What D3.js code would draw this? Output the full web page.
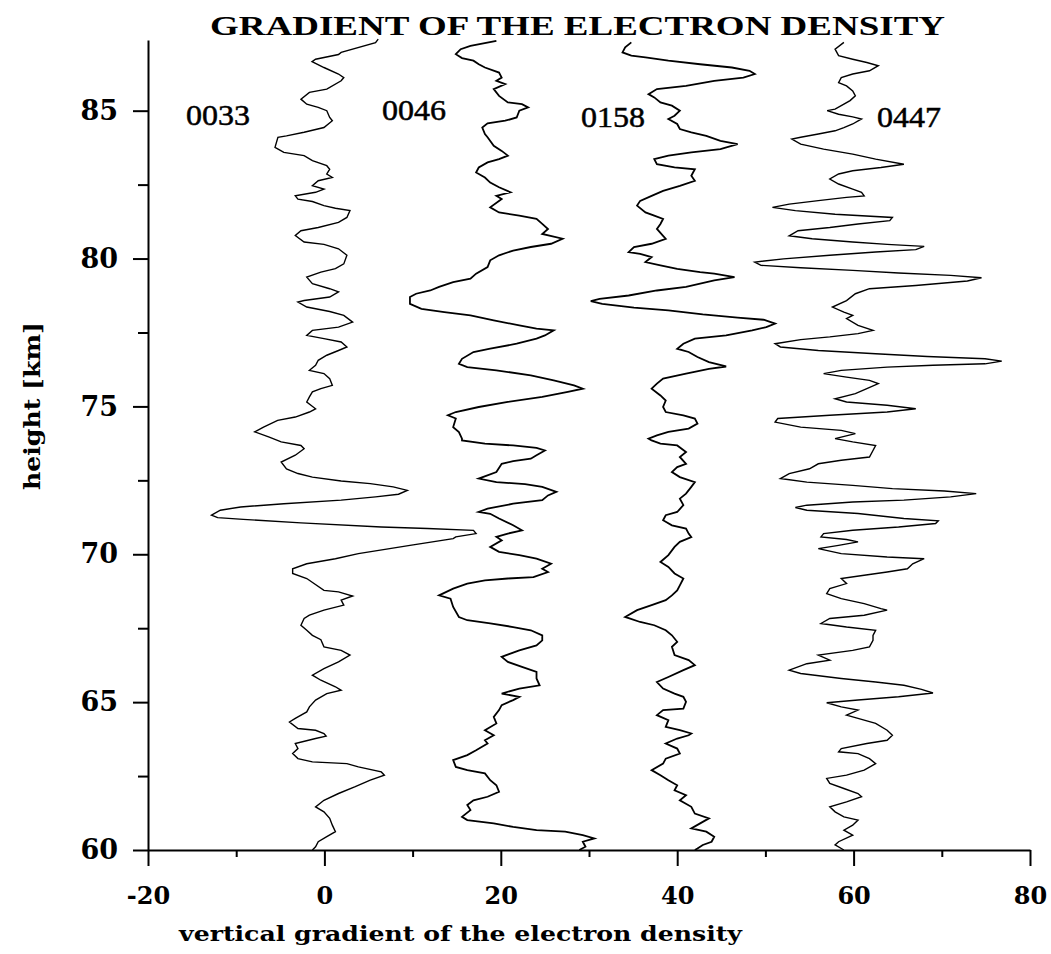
<!DOCTYPE html>
<html>
<head>
<meta charset="utf-8">
<script src="https://cdn.jsdelivr.net/npm/d3@7"></script>
<style>
  html, body { margin: 0; padding: 0; background: #fff; }
  svg { display: block; }
</style>
</head>
<body>
<svg id="chart" width="1051" height="954"></svg>
<script>
// ---------------- DATA ----------------
const seriesNames = ["0033", "0046", "0158", "0447"];
const xTicksMajor = [-20, 0, 20, 40, 60, 80];
const xTicksMinor = [-10, 10, 30, 50, 70];
const yTicksMajor = [60, 65, 70, 75, 80, 85];
const yTicksMinor = [62.5, 67.5, 72.5, 77.5, 82.5];
const xDomain = [-20, 80];
const yDomain = [60, 87.39];

// [height km, gradient]
const s0033 = [[87.42,6.1],[87.3,5.8],[86.97,1.9],[86.9,1.6],[86.74,-1.0],[86.66,-1.4],[86.46,-0.05],[86.24,1.6],[86.12,2.2],[86.01,1.9],[85.73,0.27],[85.62,-1.7],[85.39,-2.66],[85.22,-2.0],[85.11,-0.7],[85.0,0.27],[84.77,0.6],[84.66,0.9],[84.43,-0.05],[84.27,-2.3],[84.15,-4.3],[84.10,-5.27],[83.76,-5.6],[83.59,-4.6],[83.48,-2.3],[83.31,-1.36],[83.14,0.27],[83.02,0.6],[82.86,0.27],[82.74,0.9],[82.63,-0.7],[82.46,-1.36],[82.35,-0.05],[82.24,-1.0],[82.12,-3.3],[82.01,-3.0],[81.93,-1.36],[81.79,-0.05],[81.70,1.25],[81.62,2.9],[81.39,2.55],[81.22,1.6],[81.05,-0.7],[80.94,-2.66],[80.78,-3.3],[80.56,-2.3],[80.48,-0.05],[80.33,1.6],[80.11,2.55],[79.82,2.2],[79.66,1.25],[79.54,-0.4],[79.37,-2.0],[79.15,-1.36],[78.98,0.6],[78.87,1.6],[78.70,0.6],[78.58,-2.3],[78.53,-3.0],[78.36,-2.0],[78.21,0.6],[78.08,2.2],[77.85,3.2],[77.68,1.6],[77.57,-1.36],[77.40,-2.0],[77.29,-0.05],[77.18,1.9],[77.01,2.55],[76.89,1.6],[76.73,0.27],[76.56,-0.7],[76.39,-1.0],[76.22,-1.7],[76.11,-0.05],[75.94,0.6],[75.71,0.9],[75.60,-0.4],[75.49,-1.36],[75.32,-1.7],[75.15,-2.0],[74.92,-1.0],[74.81,-1.7],[74.64,-3.3],[74.53,-5.3],[74.30,-6.9],[74.14,-7.9],[73.96,-6.25],[73.80,-4.9],[73.68,-2.66],[73.57,-2.3],[73.35,-3.3],[73.12,-4.9],[72.89,-4.3],[72.73,-3.0],[72.61,-1.36],[72.48,1.9],[72.39,5.2],[72.28,7.8],[72.16,9.4],[72.03,8.4],[71.94,5.8],[71.83,1.9],[71.71,-4.6],[71.60,-9.5],[71.49,-11.8],[71.32,-12.8],[71.24,-12.1],[71.18,-9.2],[71.06,-2.66],[70.92,6.45],[70.87,11.7],[70.81,16.9],[70.70,17.2],[70.59,14.9],[70.53,14.6],[70.30,9.7],[70.19,7.4],[70.02,3.85],[69.85,1.25],[69.68,-2.0],[69.51,-3.6],[69.35,-3.6],[69.18,-2.0],[68.78,-0.05],[68.73,1.6],[68.59,3.2],[68.45,1.9],[68.28,2.2],[68.11,-0.05],[67.94,-1.7],[67.83,-2.3],[67.60,-2.66],[67.43,-2.0],[67.26,-1.36],[67.11,-0.4],[66.87,-0.05],[66.75,1.9],[66.59,2.9],[66.36,1.6],[66.13,-0.05],[65.91,-1.36],[65.74,-0.4],[65.52,1.25],[65.40,1.9],[65.29,0.27],[65.07,-1.0],[64.84,-1.7],[64.67,-2.0],[64.45,-3.3],[64.33,-3.96],[64.11,-3.0],[64.05,-1.0],[63.94,-0.05],[63.85,0.2],[63.77,-1.0],[63.60,-3.3],[63.43,-3.0],[63.26,-3.6],[63.09,-3.0],[62.98,-1.36],[62.92,2.55],[62.81,3.85],[62.64,6.45],[62.53,6.8],[62.36,5.2],[62.14,3.5],[61.91,1.6],[61.68,-0.05],[61.46,-1.0],[61.29,-0.05],[61.07,0.6],[60.84,0.9],[60.62,1.25],[60.45,0.27],[60.28,-0.7],[60.11,-1.0],[60.0,-1.36]];

const s0046 = [[87.36,19.5],[87.19,16.56],[87.08,15.45],[86.91,14.9],[86.78,15.6],[86.69,16.9],[86.57,17.5],[86.46,18.2],[86.29,19.8],[86.12,20.1],[86.01,19.5],[85.90,20.5],[85.73,19.2],[85.50,19.8],[85.28,20.8],[85.22,22.4],[85.11,23.1],[85.0,22.1],[84.77,21.8],[84.66,20.5],[84.57,18.5],[84.43,17.9],[84.21,18.2],[84.10,18.5],[83.81,19.2],[83.64,20.1],[83.48,20.8],[83.36,19.8],[83.25,18.5],[83.08,17.5],[82.91,17.2],[82.74,18.2],[82.57,18.8],[82.41,19.8],[82.24,21.1],[82.12,19.5],[82.01,20.1],[81.73,18.8],[81.56,19.8],[81.45,22.1],[81.34,24.05],[81.17,24.7],[81.0,25.35],[80.83,24.7],[80.67,27.0],[80.50,25.7],[80.39,23.4],[80.27,21.4],[80.11,19.8],[79.94,18.8],[79.71,18.5],[79.49,17.2],[79.32,16.56],[79.20,14.6],[79.04,13.0],[78.92,12.0],[78.81,10.4],[78.70,9.7],[78.47,9.7],[78.30,11.0],[78.19,13.6],[78.08,16.56],[77.91,19.2],[77.74,22.1],[77.63,24.05],[77.57,26.0],[77.40,25.0],[77.29,24.05],[77.12,21.8],[76.95,18.8],[76.84,16.9],[76.61,15.6],[76.44,15.25],[76.33,16.2],[76.22,19.5],[76.05,23.4],[75.88,26.0],[75.71,28.3],[75.60,29.3],[75.49,27.6],[75.32,24.7],[75.15,20.8],[74.98,17.5],[74.81,14.9],[74.70,14.0],[74.59,14.9],[74.30,14.6],[74.13,15.25],[73.91,15.6],[73.85,15.6],[73.74,18.2],[73.68,21.4],[73.60,24.05],[73.51,25.0],[73.35,24.05],[73.23,23.4],[73.15,21.4],[73.06,20.1],[72.78,19.5],[72.56,17.5],[72.44,19.5],[72.37,22.75],[72.28,24.7],[72.11,26.3],[71.99,25.35],[71.83,24.7],[71.71,21.4],[71.54,18.5],[71.43,17.5],[71.37,18.8],[71.21,19.8],[70.98,21.4],[70.81,22.4],[70.70,20.8],[70.59,19.5],[70.47,20.1],[70.25,18.8],[70.08,19.8],[69.97,22.1],[69.85,24.05],[69.68,25.7],[69.51,24.7],[69.40,25.35],[69.23,23.7],[69.18,20.8],[69.12,18.2],[69.01,16.2],[68.84,14.6],[68.61,13.0],[68.50,14.3],[68.22,14.6],[67.88,15.25],[67.77,16.2],[67.66,18.8],[67.54,21.4],[67.43,23.4],[67.26,24.7],[67.09,24.7],[66.92,24.05],[66.75,22.1],[66.53,20.1],[66.36,20.8],[66.19,22.4],[66.02,24.05],[65.80,24.05],[65.57,24.4],[65.46,22.1],[65.29,20.1],[65.18,22.1],[65.07,21.4],[64.90,20.1],[64.73,19.8],[64.50,19.2],[64.28,19.5],[64.05,18.2],[63.88,19.2],[63.71,18.2],[63.60,18.5],[63.37,17.2],[63.21,16.2],[63.04,14.6],[62.81,14.9],[62.70,16.2],[62.59,18.2],[62.36,18.8],[62.19,19.5],[61.97,19.8],[61.80,18.5],[61.68,16.9],[61.52,16.2],[61.35,16.56],[61.12,15.6],[61.01,16.2],[60.90,19.2],[60.78,21.4],[60.67,24.05],[60.62,27.3],[60.50,29.3],[60.39,30.6],[60.28,29.3],[60.11,29.6],[60.0,28.9]];

const s0158 = [[87.31,34.8],[87.14,34.1],[86.97,33.8],[86.86,34.8],[86.80,36.4],[86.69,39.0],[86.57,42.6],[86.46,46.2],[86.35,48.2],[86.24,48.8],[86.12,47.5],[86.01,44.2],[85.84,41.0],[85.73,37.7],[85.56,36.75],[85.45,37.4],[85.28,38.1],[85.17,39.4],[85.0,40.3],[84.83,39.7],[84.72,39.0],[84.55,40.0],[84.38,40.3],[84.27,41.6],[84.15,43.3],[83.98,44.9],[83.87,46.85],[83.70,44.9],[83.59,41.6],[83.48,39.0],[83.36,37.4],[83.19,37.7],[83.08,39.7],[83.02,42.0],[82.80,41.6],[82.63,42.0],[82.46,40.3],[82.29,38.4],[82.12,37.1],[81.95,35.8],[81.79,35.45],[81.56,36.4],[81.45,37.4],[81.34,38.4],[81.17,38.1],[81.0,37.7],[80.77,38.4],[80.67,38.7],[80.50,37.1],[80.39,35.1],[80.22,34.5],[80.16,35.8],[80.05,37.1],[79.88,36.4],[79.77,38.1],[79.65,40.0],[79.54,42.6],[79.49,44.2],[79.37,46.5],[79.26,44.2],[79.04,41.0],[78.92,37.7],[78.75,34.5],[78.64,31.2],[78.56,30.2],[78.47,31.5],[78.34,35.1],[78.25,39.0],[78.11,42.9],[78.0,46.85],[77.93,49.8],[77.80,51.1],[77.68,50.1],[77.57,48.5],[77.40,45.55],[77.29,42.0],[77.12,40.7],[76.95,40.0],[76.84,41.3],[76.67,42.3],[76.50,43.6],[76.35,45.55],[76.27,43.6],[76.11,41.0],[75.94,38.4],[75.77,37.7],[75.60,37.1],[75.37,38.1],[75.20,38.7],[74.98,38.4],[74.81,38.7],[74.70,40.7],[74.59,42.0],[74.42,42.3],[74.25,41.3],[74.14,39.0],[74.02,37.7],[73.91,36.75],[73.85,37.1],[73.74,38.1],[73.68,40.0],[73.46,41.0],[73.29,40.3],[73.06,41.0],[72.95,40.0],[72.78,39.4],[72.61,40.3],[72.44,42.0],[72.28,41.6],[72.05,41.0],[71.88,40.3],[71.66,40.7],[71.43,40.0],[71.32,38.7],[71.15,38.4],[70.98,39.4],[70.87,41.0],[70.70,41.3],[70.58,41.6],[70.42,40.3],[70.25,39.7],[69.97,39.0],[69.74,38.1],[69.57,39.0],[69.35,39.7],[69.18,40.7],[68.95,40.3],[68.78,40.0],[68.61,39.4],[68.45,38.7],[68.28,37.1],[68.11,35.45],[67.88,34.1],[67.71,35.8],[67.60,37.4],[67.43,38.7],[67.26,39.4],[67.04,40.0],[66.87,39.4],[66.59,39.7],[66.42,41.3],[66.25,42.0],[66.08,40.7],[65.85,39.0],[65.68,37.7],[65.46,38.4],[65.29,39.7],[65.18,40.7],[65.01,41.0],[64.78,40.7],[64.73,38.4],[64.56,37.7],[64.39,39.0],[64.16,38.7],[64.05,40.3],[63.94,41.6],[63.88,41.3],[63.77,40.0],[63.60,38.7],[63.43,40.0],[63.26,40.3],[63.09,38.7],[62.92,38.4],[62.70,37.1],[62.53,38.1],[62.36,39.0],[62.19,40.0],[62.02,39.7],[61.85,41.0],[61.68,40.3],[61.46,41.6],[61.23,42.0],[61.07,43.6],[60.90,42.6],[60.73,41.6],[60.62,43.3],[60.45,44.2],[60.28,43.9],[60.17,42.9],[60.05,42.3],[60.0,42.0]];

const s0447 = [[87.31,58.9],[87.08,57.9],[86.86,58.3],[86.74,59.9],[86.63,61.5],[86.52,62.8],[86.35,61.8],[86.24,59.9],[86.12,58.6],[85.95,58.3],[85.84,59.2],[85.67,59.9],[85.50,60.2],[85.34,59.6],[85.22,58.9],[85.05,57.9],[85.0,57.0],[84.88,58.3],[84.79,59.9],[84.72,60.9],[84.55,59.9],[84.43,58.9],[84.32,57.9],[84.21,56.0],[84.10,54.0],[84.04,53.0],[83.87,54.0],[83.70,56.6],[83.53,59.9],[83.36,62.5],[83.19,65.7],[83.08,63.1],[82.97,59.9],[82.86,58.3],[82.69,57.3],[82.52,58.3],[82.35,59.9],[82.24,60.9],[82.12,61.2],[82.07,59.2],[81.96,56.0],[81.84,52.7],[81.73,50.8],[81.62,53.4],[81.50,57.9],[81.39,64.4],[81.28,64.1],[81.17,60.5],[81.05,57.3],[80.94,53.7],[80.77,52.7],[80.67,55.3],[80.56,59.9],[80.48,63.8],[80.41,68.0],[80.30,67.05],[80.22,62.5],[80.11,57.3],[79.99,52.05],[79.88,48.8],[79.77,49.5],[79.69,54.0],[79.60,59.9],[79.51,65.1],[79.43,71.0],[79.35,74.5],[79.24,72.9],[79.09,67.05],[78.98,61.8],[78.81,60.2],[78.58,59.2],[78.36,57.6],[78.19,58.9],[78.08,59.9],[77.97,59.2],[77.74,60.5],[77.57,62.2],[77.46,60.5],[77.35,57.3],[77.26,54.0],[77.12,51.1],[77.01,51.7],[76.89,56.0],[76.78,62.5],[76.69,68.35],[76.61,74.9],[76.53,76.8],[76.44,74.9],[76.39,69.0],[76.33,63.8],[76.22,58.6],[76.11,56.6],[75.99,59.2],[75.88,61.8],[75.77,62.8],[75.60,61.5],[75.43,60.2],[75.26,57.9],[75.15,59.2],[75.04,63.8],[74.92,67.05],[74.81,63.8],[74.70,57.3],[74.59,51.4],[74.47,51.1],[74.30,54.0],[74.19,58.6],[74.08,60.2],[73.91,57.9],[73.80,59.9],[73.68,62.5],[73.51,62.2],[73.29,61.8],[73.18,58.6],[73.06,56.0],[72.89,55.0],[72.73,52.7],[72.56,51.7],[72.44,54.7],[72.33,59.9],[72.22,64.4],[72.14,70.3],[72.05,73.9],[71.94,71.0],[71.83,65.7],[71.77,59.9],[71.66,54.7],[71.58,53.4],[71.49,54.7],[71.38,60.5],[71.21,65.7],[71.13,69.6],[71.04,69.3],[70.92,65.1],[70.81,59.9],[70.70,56.6],[70.59,56.3],[70.50,59.2],[70.42,60.5],[70.30,58.3],[70.19,56.0],[70.02,58.6],[69.91,63.8],[69.85,68.0],[69.68,66.7],[69.51,66.1],[69.40,63.8],[69.29,61.2],[69.18,58.6],[69.01,59.2],[68.84,57.3],[68.67,56.95],[68.50,58.6],[68.33,61.2],[68.16,63.1],[68.11,63.8],[67.94,61.2],[67.83,57.3],[67.66,56.3],[67.54,59.2],[67.43,62.5],[67.26,62.2],[67.09,62.2],[66.87,61.8],[66.75,59.9],[66.59,56.0],[66.42,57.3],[66.30,54.7],[66.08,52.7],[65.97,54.0],[65.80,58.6],[65.68,62.5],[65.57,65.7],[65.43,67.7],[65.31,69.0],[65.18,65.1],[65.07,60.5],[64.98,56.95],[64.84,58.6],[64.73,60.5],[64.56,59.2],[64.45,60.5],[64.28,62.5],[64.05,63.8],[63.88,64.4],[63.71,63.8],[63.60,61.5],[63.43,58.6],[63.32,58.3],[63.26,60.5],[63.09,61.8],[62.92,62.5],[62.70,61.2],[62.53,59.2],[62.42,56.95],[62.25,57.3],[62.08,58.9],[61.91,60.5],[61.80,60.9],[61.63,59.2],[61.46,57.3],[61.29,57.9],[61.12,58.9],[61.01,60.5],[60.84,59.9],[60.67,58.9],[60.50,59.9],[60.28,58.3],[60.17,57.9],[60.0,58.9]];

const seriesData = [s0033, s0046, s0158, s0447];

// ---------------- LAYOUT ----------------
const svg = d3.select("#chart");
const x = d3.scaleLinear().domain(xDomain).range([148, 1030]);
const y = d3.scaleLinear().domain(yDomain).range([850, 40]);

// traces
const line = d3.line().x(d => x(d[1])).y(d => y(d[0]));
const strokeW = [1.4, 1.8, 1.8, 1.4];
seriesData.forEach((s, i) => {
  svg.append("path")
    .datum(s)
    .attr("d", line)
    .attr("fill", "none")
    .attr("stroke", "#000")
    .attr("stroke-width", strokeW[i])
    .attr("stroke-linejoin", "miter");
});

// x axis
const xAxis = svg.append("g").attr("transform", "translate(0,850)");
xAxis.call(d3.axisBottom(x).tickValues(xTicksMajor).tickSize(16).tickSizeOuter(0).tickFormat(d3.format("d")));
xAxis.select(".domain").attr("stroke-width", 2);
xAxis.selectAll(".tick line").attr("stroke-width", 2);
xAxis.selectAll(".tick text")
  .attr("y", 54).attr("dy", 0)
  .attr("font-family", "'DejaVu Serif', serif")
  .attr("font-weight", "bold")
  .attr("font-size", 24)
  .attr("fill", "#000")
  .text(d => d < 0 ? "-" + Math.abs(d) : d);
const xMinor = svg.append("g").attr("transform", "translate(0,850)");
xMinor.call(d3.axisBottom(x).tickValues(xTicksMinor).tickSize(7).tickSizeOuter(0).tickFormat(""));
xMinor.select(".domain").remove();
xMinor.selectAll(".tick line").attr("stroke-width", 2);

// y axis
const yAxis = svg.append("g").attr("transform", "translate(148,0)");
yAxis.call(d3.axisLeft(y).tickValues(yTicksMajor).tickSize(15).tickSizeOuter(0).tickFormat(d3.format("d")));
yAxis.select(".domain").attr("stroke-width", 2);
yAxis.selectAll(".tick line").attr("stroke-width", 2);
yAxis.selectAll(".tick text")
  .attr("x", -30)
  .attr("font-family", "'DejaVu Serif', serif")
  .attr("font-weight", "bold")
  .attr("font-size", 27)
  .attr("fill", "#000");
const yMinor = svg.append("g").attr("transform", "translate(148,0)");
yMinor.call(d3.axisLeft(y).tickValues(yTicksMinor).tickSize(10).tickSizeOuter(0).tickFormat(""));
yMinor.select(".domain").remove();
yMinor.selectAll(".tick line").attr("stroke-width", 2);

// title
svg.append("text")
  .attr("x", 210).attr("y", 35)
  .attr("font-family", "'Liberation Serif', 'Times New Roman', serif")
  .attr("font-weight", "bold")
  .attr("font-size", 28)
  .attr("textLength", 735)
  .attr("lengthAdjust", "spacingAndGlyphs")
  .text("GRADIENT OF THE ELECTRON DENSITY");

// x label
svg.append("text")
  .attr("x", 179).attr("y", 941)
  .attr("font-family", "'DejaVu Serif', serif")
  .attr("font-weight", "bold")
  .attr("font-size", 21)
  .attr("textLength", 563)
  .attr("lengthAdjust", "spacingAndGlyphs")
  .text("vertical gradient of the electron density");

// y label
svg.append("text")
  .attr("transform", "translate(40,490) rotate(-90)")
  .attr("x", 0).attr("y", 0)
  .attr("font-family", "'DejaVu Serif', serif")
  .attr("font-weight", "bold")
  .attr("font-size", 23)
  .attr("textLength", 168)
  .attr("lengthAdjust", "spacingAndGlyphs")
  .text("height [km]");

// series labels
const labelPos = [[186, 125], [382, 120], [581, 127], [877, 127]];
seriesNames.forEach((n, i) => {
  svg.append("text")
    .attr("x", labelPos[i][0]).attr("y", labelPos[i][1])
    .attr("font-family", "'Liberation Serif', 'Times New Roman', serif")
    .attr("font-size", 29)
    .attr("stroke", "#000")
    .attr("stroke-width", 0.5)
    .attr("textLength", 64)
    .attr("lengthAdjust", "spacingAndGlyphs")
    .text(n);
});
</script>
</body>
</html>
